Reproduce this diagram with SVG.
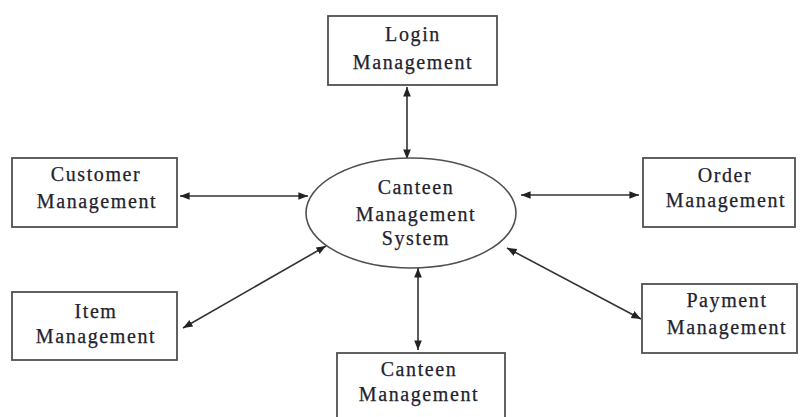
<svg xmlns="http://www.w3.org/2000/svg" width="800" height="417" viewBox="0 0 800 417">
  <style>
    .box { fill: #ffffff; stroke: #505050; stroke-width: 1.8; }
    .hub { fill: #ffffff; stroke: #505050; stroke-width: 1.6; }
    .lbl { font-family: "Liberation Serif", "Times New Roman", serif; font-size: 20px; fill: #22222e; stroke: #22222e; stroke-width: 0.25; text-anchor: middle; letter-spacing: 1.6px; }
    .link { stroke: #333333; stroke-width: 1.6; fill: none; marker-start: url(#tip); marker-end: url(#tip); }
  </style>
  <defs>
    <marker id="tip" viewBox="0 0 10 10" refX="10" refY="5" markerWidth="6" markerHeight="6" markerUnits="strokeWidth" orient="auto-start-reverse">
      <path d="M0,1 L10,5 L0,9 Z" fill="#222222"/>
    </marker>
  </defs>
  <rect width="800" height="417" fill="#ffffff"/>

  <!-- two-way links between the hub and each module -->
  <g id="connectors">
    <line class="link" x1="407" y1="87" x2="407" y2="159"/>
    <line class="link" x1="180" y1="196" x2="308" y2="196"/>
    <line class="link" x1="521" y1="195" x2="639" y2="195"/>
    <line class="link" x1="183" y1="328" x2="326" y2="246"/>
    <line class="link" x1="507" y1="248" x2="641" y2="319"/>
    <line class="link" x1="418" y1="268" x2="418" y2="350"/>
  </g>

  <g id="login">
    <rect class="box" x="328" y="16" width="169" height="69"/>
    <text class="lbl" x="413" y="41">Login</text>
    <text class="lbl" x="413" y="69">Management</text>
  </g>

  <g id="customer">
    <rect class="box" x="12" y="158" width="165" height="69"/>
    <text class="lbl" x="96" y="181">Customer</text>
    <text class="lbl" x="97" y="208">Management</text>
  </g>

  <g id="system">
    <ellipse class="hub" cx="411" cy="213" rx="105" ry="55"/>
    <text class="lbl" x="416" y="194">Canteen</text>
    <text class="lbl" x="416" y="221">Management</text>
    <text class="lbl" x="416" y="245">System</text>
  </g>

  <g id="order">
    <rect class="box" x="643" y="158" width="152" height="69"/>
    <text class="lbl" x="725" y="182">Order</text>
    <text class="lbl" x="726" y="207">Management</text>
  </g>

  <g id="item">
    <rect class="box" x="12" y="292" width="165" height="68"/>
    <text class="lbl" x="96" y="318">Item</text>
    <text class="lbl" x="96" y="343">Management</text>
  </g>

  <g id="payment">
    <rect class="box" x="642" y="284" width="155" height="69"/>
    <text class="lbl" x="727" y="307">Payment</text>
    <text class="lbl" x="727" y="334">Management</text>
  </g>

  <g id="canteen">
    <rect class="box" x="337" y="353" width="168" height="80"/>
    <text class="lbl" x="419" y="376">Canteen</text>
    <text class="lbl" x="419" y="401">Management</text>
  </g>
</svg>
